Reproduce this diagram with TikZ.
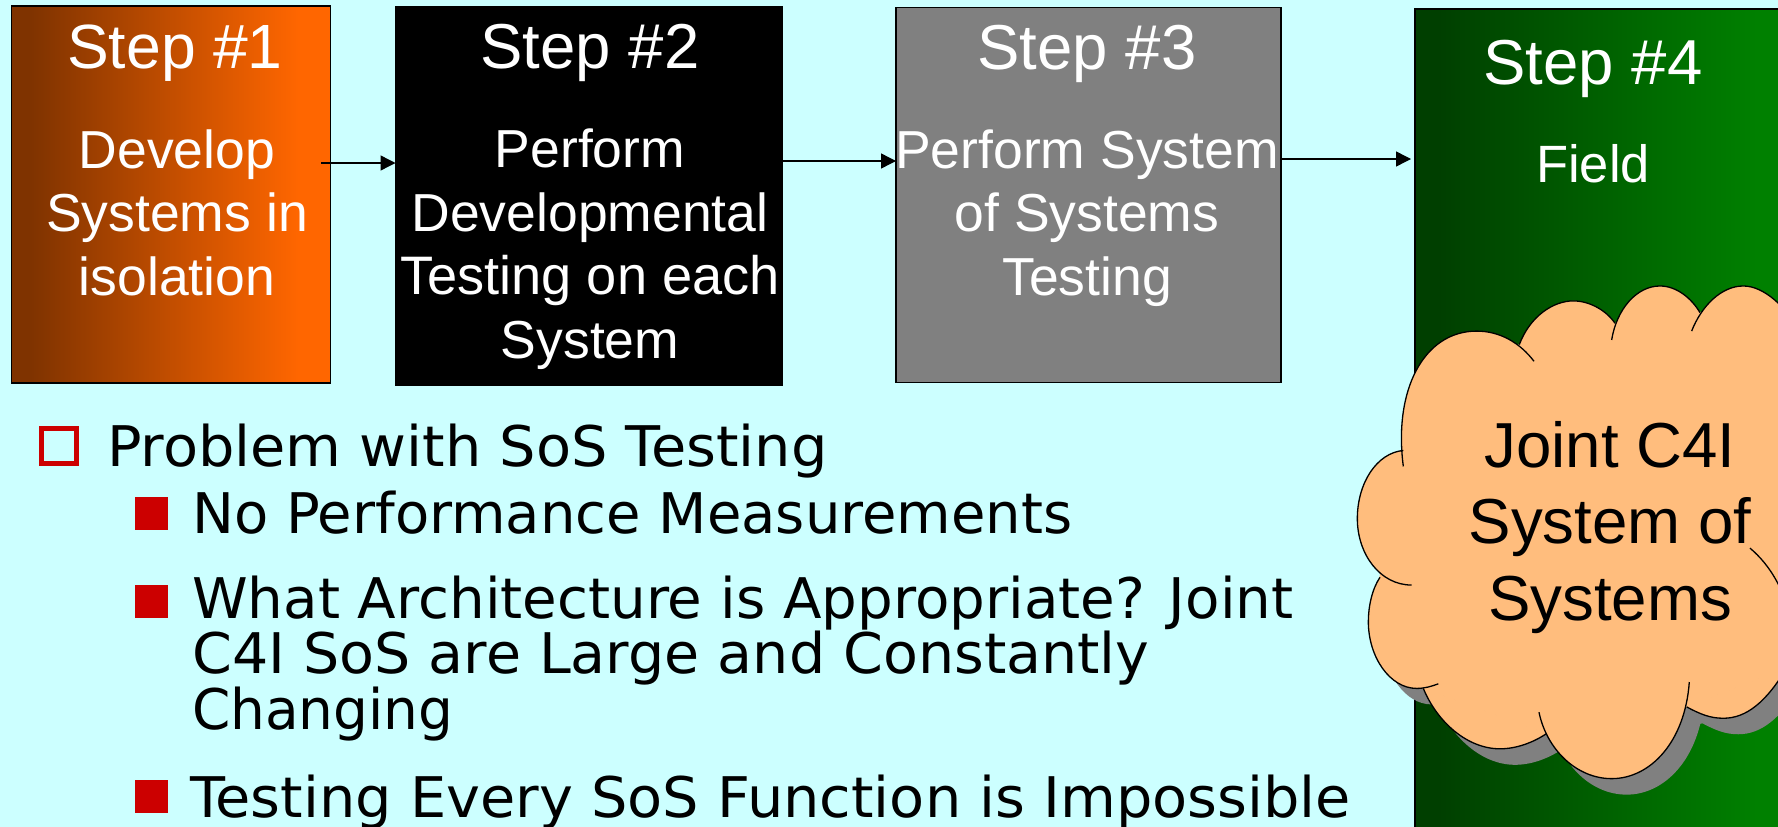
\documentclass[tikz,border=0pt]{standalone}
\usepackage{fontspec}
\setmainfont{Liberation Sans}
\newfontfamily\verd{DejaVu Sans}
\newfontfamily\verdw[FakeStretch=1.024]{DejaVu Sans}
\newfontfamily\verdm[FakeStretch=1.019]{DejaVu Sans}
\newfontfamily\verdb[FakeStretch=1.005]{DejaVu Sans}
\newfontfamily\verdn[FakeStretch=0.98]{DejaVu Sans}
\usetikzlibrary{arrows.meta}
\definecolor{bgc}{HTML}{CCFFFF}
\definecolor{redc}{HTML}{CC0000}
\definecolor{cloudc}{HTML}{FFBD7D}
\definecolor{orA}{HTML}{7F3300}
\definecolor{orB}{HTML}{FF6600}
\definecolor{grA}{HTML}{003F00}
\definecolor{grB}{HTML}{008000}
\pgfdeclarehorizontalshading{orshade}{100bp}{color(0bp)=(orA); color(28bp)=(orA); color(70bp)=(orB); color(100bp)=(orB)}
\pgfdeclarehorizontalshading{grshade}{100bp}{color(0bp)=(grA); color(28bp)=(grA); color(70bp)=(grB); color(100bp)=(grB)}
\tikzset{
  stepbox/.style={draw=black,line width=1.2pt,anchor=north west,inner sep=0pt,outer sep=0pt},
  steptitle/.style={anchor=base,text=white,inner sep=0pt,font=\fontsize{63.5}{64}\selectfont},
  steptext/.style={anchor=base,text=white,inner sep=0pt,align=center,font=\fontsize{53.5}{63.5}\selectfont},
  flow/.style={draw=black,line width=1.4pt,-{Triangle[length=15pt,width=15pt]}},
  bull/.style={anchor=base west,inner sep=0pt,align=left,text=black,font=\verd\fontsize{56}{54}\selectfont},
  sq/.style={fill=redc,draw=none,anchor=north west,inner sep=0pt,minimum width=33pt,minimum height=33pt}
}
\newcommand\lobes[1]{%
  \path[#1] (190,553) .. controls (160,340) and (250,172) .. (410,172) .. controls (480,172) and (540,205) .. (582,257);
  \path[#1] (538,210) .. controls (570,130) and (640,87) .. (700,87) .. controls (750,87) and (800,115) .. (825,150);
  \path[#1] (815,197) .. controls (830,110) and (890,45) .. (960,45) .. controls (1010,45) and (1055,80) .. (1080,120);
  \path[#1] (1055,172) .. controls (1085,100) and (1145,45) .. (1210,45) .. controls (1270,45) and (1340,100) .. (1400,200);
  \path[#1] (1230,783) .. controls (1290,830) and (1345,910) .. (1360,1030) .. controls (1365,1080) and (1350,1110) .. (1340,1120);
  \path[#1] (1040,1230) .. controls (1080,1250) and (1110,1262) .. (1150,1262) .. controls (1220,1262) and (1280,1215) .. (1340,1120);
  \path[#1] (597,1245) .. controls (620,1350) and (710,1432) .. (815,1432) .. controls (930,1432) and (1035,1330) .. (1048,1160);
  \path[#1] (250,1178) .. controls (290,1270) and (380,1348) .. (480,1348) .. controls (530,1348) and (580,1330) .. (620,1305);
  \path[#1] (120,865) .. controls (95,900) and (85,950) .. (85,990) .. controls (85,1090) and (150,1178) .. (230,1178) .. controls (255,1178) and (275,1172) .. (295,1165);
  \path[#1] (190,508) .. controls (110,515) and (52,600) .. (52,700) .. controls (52,800) and (120,887) .. (215,887);
}
\newcommand\cloudcore{(190,508)--(538,210)--(825,150)--(1080,120)--(1400,200)--(1360,1030)--(1340,1120)--(1040,1230)--(620,1305)--(250,1178)--(120,865)--cycle}
\begin{document}
\begin{tikzpicture}[x=1pt,y=-1pt]
\useasboundingbox (0,0) rectangle (1778,827);
\clip (0,0) rectangle (1778,827);
\fill[bgc] (0,0) rectangle (1778,827);
% boxes
\node[stepbox,minimum width=319pt,minimum height=377pt,shading=orshade] (b1) at (11.5,6) {};
\node[stepbox,fill=black,minimum width=387pt,minimum height=378pt] (b2) at (395.5,7) {};
\node[stepbox,fill=gray,minimum width=385pt,minimum height=375pt] (b3) at (896,7.5) {};
\node[stepbox,minimum width=380pt,minimum height=830pt,shading=grshade] (b4) at (1415,9) {};
% texts
\node[steptitle,font=\fontsize{62.5}{64}\selectfont] (t1) at (175,68) {Step \#1};
\node[steptext] (d1) at (177,295) {Develop\\Systems in\\isolation};
\node[steptitle] (t2) at (590,68) {Step \#2};
\node[steptext] (d2) at (590,358) {Perform\\Developmental\\{\fontsize{54.2}{63.5}\selectfont Testing on each}\\System};
\node[steptitle] (t3) at (1087,69) {Step \#3};
\node[steptext] (d3) at (1087,295) {Perform System\\of Systems\\Testing};
\node[steptitle] (t4) at (1593,84) {Step \#4};
\node[steptext,font=\fontsize{52.5}{60}\selectfont] (d4) at (1593,182) {Field};
% arrows
\coordinate (s1) at (321,163);
\coordinate (s3) at (1411,159);
\draw[flow] (s1) -- (s1 -| b2.west);
\draw[flow] (b2.east |- 0,161) -- (b3.west |- 0,161);
\draw[flow] (b3.east |- s3) -- (s3);
% cloud
\begin{scope}[shift={(1355,286)},x=.3333pt,y=-.3552pt]
  \filldraw[gray,line width=1.2pt,line join=round] \cloudcore;
  \lobes{fill=gray}
\end{scope}
\begin{scope}[shift={(1340,270)},x=.3333pt,y=-.3552pt]
  \filldraw[cloudc,line width=1.2pt,line join=round] \cloudcore;
  \lobes{fill=cloudc}
  \lobes{draw=black,line width=1.3pt}
\end{scope}
\node[anchor=base,inner sep=0pt,align=center,font=\fontsize{63.6}{76.4}\selectfont] (c) at (1610,620) {Joint C4I\\System of\\Systems};
% bullets
\node[draw=redc,line width=5.4pt,anchor=north west,inner sep=0pt,outer sep=0pt,minimum width=35pt,minimum height=35pt] (q0) at (41.7,428.5) {};
\node[sq] (q1) at (135,497) {};
\node[sq] (q2) at (135,585) {};
\node[sq] (q3) at (135,780) {};
\node[bull] (l0) at (107,466) {\verdw Problem with SoS Testing};
\node[bull] (l1) at (192,533) {No Performance Measurements};
\node[bull] (l2) at (192,729) {{\verdb What Architecture is Appropriate? Joint}\\{\verdm C4I SoS are Large and Constantly}\\{\verdn Changing}};
\node[bull] (l3) at (190,817) {\verdw Testing Every SoS Function is Impossible};
\end{tikzpicture}
\end{document}
